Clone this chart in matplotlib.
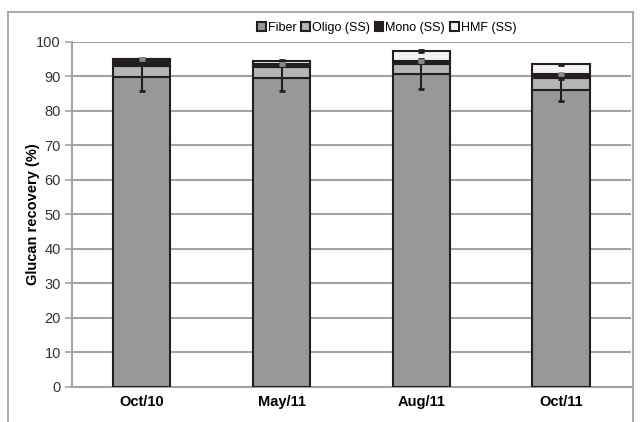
import numpy as np
import matplotlib
matplotlib.use('Agg')
from matplotlib import pyplot as plt
from matplotlib.lines import Line2D

plt.rcParams['font.family'] = ['Liberation Sans', 'DejaVu Sans']

# Harvest dates and glucan recovery fractions (%)
dates = ['Oct/10', 'May/11', 'Aug/11', 'Oct/11']
fiber = [89.9, 89.5, 90.7, 86.1]
oligo = [3.0, 3.3, 2.8, 3.5]
mono = [2.1, 0.9, 1.1, 1.0]
hmf = [0.1, 0.8, 2.8, 2.9]
fiber_err = [4.0, 3.7, 4.3, 3.2]
oligo_err = [0.3, 0.3, 0.3, 0.3]
hmf_err = [0.2, 0.2, 0.2, 0.2]

series = [('Fiber', fiber, '#97989a'),
          ('Oligo (SS)', oligo, '#b4b5b7'),
          ('Mono (SS)', mono, '#231f20'),
          ('HMF (SS)', hmf, '#f2f2f3')]

edge = '#231f20'
grid_col = '#a3a3a3'

fig = plt.figure(figsize=(6.41, 4.22), dpi=100)
ax = fig.add_axes([0.1123, 0.083, 0.872, 0.8175])

x = np.arange(len(dates))
bottom = np.zeros(len(dates))
for name, vals, col in series:
    ax.bar(x, vals, width=0.41, bottom=bottom, color=col, edgecolor=edge,
           linewidth=1.5, zorder=3, label=name)
    bottom = bottom + np.array(vals)

# error bars: fiber at its top, others at cumulative tops
ebkw = dict(fmt='none', ecolor=edge, elinewidth=1.5, capsize=2.5, capthick=2, zorder=4)
ax.errorbar(x, fiber, yerr=fiber_err, **ebkw)
oligo_top = np.array(fiber) + np.array(oligo) + np.array(mono)
ax.errorbar(x, oligo_top, yerr=oligo_err, fmt='none', ecolor='#8a8a8a',
            elinewidth=1.5, capsize=2.5, capthick=2, zorder=5)
ax.errorbar(x, bottom, yerr=hmf_err, **ebkw)

ax.set_ylim(0, 100)
ax.set_xlim(-0.5, len(dates) - 0.5)
ax.set_yticks(range(0, 101, 10))
ax.set_xticks(x)
ax.set_xticklabels(dates, fontsize=10.5, fontweight='bold')
ax.tick_params(axis='y', labelsize=10.5, colors='#333333', length=5,
               width=1.2, direction='out', color=grid_col, pad=3)
ax.tick_params(axis='x', which='major', length=0, pad=6)
ax.grid(axis='y', color=grid_col, linewidth=1.5, zorder=0)
ax.set_axisbelow(True)
for s in ['top', 'right']:
    ax.spines[s].set_visible(False)
for s in ['left', 'bottom']:
    ax.spines[s].set_color(grid_col)
    ax.spines[s].set_linewidth(1.5)
ax.set_ylabel('Glucan recovery (%)', fontsize=10.5, fontweight='bold')
ax.yaxis.set_label_coords(-0.058, 0.5)

leg = fig.legend(loc='center', bbox_to_anchor=(0.603, 0.934), ncol=4,
                 frameon=False, fontsize=9, handlelength=0.7, handleheight=0.7,
                 handletextpad=0.15, columnspacing=0.4)

# chart frame
for xs, ys in [([8, 8], [0, 410]), ([8, 633], [410, 410]), ([633, 633], [410, 0])]:
    fig.add_artist(Line2D(np.array(xs) / 641, np.array(ys) / 422,
                          color=grid_col, linewidth=1.3))

fig.savefig('out.png', dpi=100)
